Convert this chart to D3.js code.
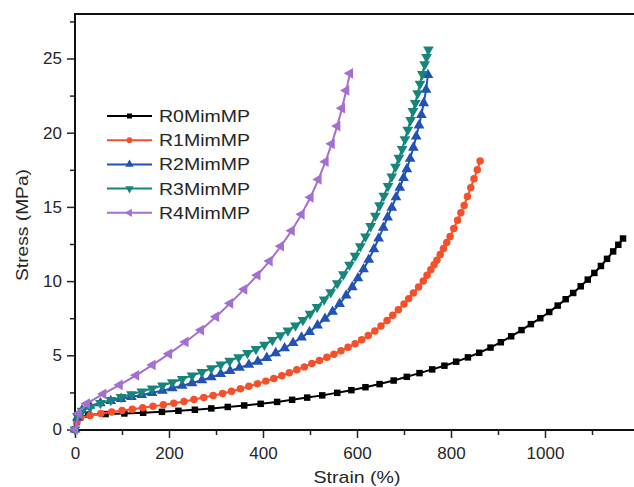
<!DOCTYPE html>
<html><head><meta charset="utf-8">
<script src="https://cdn.jsdelivr.net/npm/d3@7"></script>
<style>body{margin:0;background:#fff;} text{font-family:"Liberation Sans",Arial,sans-serif;}</style>
</head><body><svg id="c" width="634" height="487"></svg>
<script>
// ---- data ----
const seriesNames = ["R0MimMP", "R1MimMP", "R2MimMP", "R3MimMP", "R4MimMP"];

const r0Strain = [0,4,10,28,65,105,145,185,220,255,290,325,360,395,430,462,494,526,558,588,618,648,678,706,733,760,786,811,836,860,884,906,928,950,970,990,1009,1027,1044,1060,1076,1091,1105,1119,1132,1145,1156,1166];
const r0Stress = [0,0.5,0.8,1.0,1.04,1.08,1.13,1.19,1.26,1.33,1.42,1.52,1.62,1.73,1.86,2.0,2.15,2.3,2.47,2.65,2.85,3.06,3.3,3.55,3.8,4.05,4.3,4.57,4.86,5.17,5.52,5.88,6.28,6.7,7.1,7.5,7.92,8.35,8.78,9.2,9.65,10.1,10.55,11.02,11.5,12.0,12.45,12.87];

const r1Strain = [0,4,12,32,55,78,100,122,144,166,188,210,232,253,274,294,314,333,352,370,388,406,423,440,456,472,488,504,520,536,551,566,581,596,610,624,638,651,664,676,688,700,710,720,731,741,749,757,764,770,777,784,791,798,806,814,821,828,835,842,849,856,862];
const r1Stress = [0,0.5,0.8,0.95,1.08,1.18,1.28,1.37,1.46,1.56,1.66,1.77,1.89,2.02,2.15,2.29,2.43,2.58,2.74,2.91,3.08,3.26,3.44,3.63,3.82,4.02,4.22,4.45,4.65,4.87,5.07,5.3,5.54,5.78,6.05,6.33,6.63,6.98,7.35,7.7,8.07,8.45,8.82,9.2,9.6,10.0,10.4,10.77,11.1,11.4,11.8,12.2,12.6,13.0,13.55,14.1,14.6,15.1,15.7,16.3,16.9,17.5,18.1];

const r2Strain = [0,5,15,32,54,76,98,120,142,164,186,207,228,249,270,290,310,330,350,370,389,408,427,446,464,482,499,516,532,548,563,577,590,602,614,625,636,646,656,665,674,683,691,699,706,713,720,726,732,737,742,747,751];
const r2Stress = [0,0.8,1.3,1.6,1.78,1.93,2.07,2.2,2.33,2.47,2.62,2.78,2.95,3.13,3.32,3.52,3.74,3.95,4.16,4.37,4.58,4.83,5.15,5.48,5.83,6.2,6.58,7.02,7.47,7.94,8.47,9.04,9.6,10.2,10.8,11.45,12.15,12.88,13.6,14.3,14.95,15.65,16.3,16.95,17.55,18.25,19.0,19.75,20.5,21.2,22.0,22.9,23.9];

const r3Strain = [0,5,15,32,54,76,98,120,142,164,186,207,228,249,270,290,310,329,348,367,385,403,420,437,453,469,485,500,515,530,544,558,571,584,596,607,618,629,639,648,657,666,674,682,689,696,702,708,714,719,724,729,734,739,744,748,752];
const r3Stress = [0,0.9,1.25,1.5,1.78,1.98,2.18,2.37,2.56,2.76,2.96,3.17,3.4,3.63,3.86,4.12,4.38,4.62,4.87,5.15,5.42,5.71,6.02,6.34,6.66,7.0,7.38,7.8,8.25,8.75,9.25,9.85,10.45,11.1,11.7,12.35,13.0,13.7,14.4,15.1,15.75,16.4,17.05,17.7,18.3,18.9,19.55,20.2,20.85,21.45,22.0,22.65,23.3,23.95,24.6,25.1,25.6];

const r4Strain = [0,8,25,60,95,130,165,200,235,268,300,330,360,388,414,438,461,482,501,518,533,546,558,568,577,585];
const r4Stress = [0,1.1,1.75,2.4,3.0,3.65,4.35,5.1,5.9,6.7,7.6,8.5,9.45,10.4,11.35,12.35,13.4,14.5,15.65,16.85,18.05,19.25,20.45,21.65,22.85,24.0];

const xTickValues = [0, 200, 400, 600, 800, 1000];
const xMinorValues = [100, 300, 500, 700, 900, 1100];
const yTickValues = [0, 5, 10, 15, 20, 25];
const yMinorValues = [2.5, 7.5, 12.5, 17.5, 22.5, 27.5];
const xTitle = "Strain (%)";
const yTitle = "Stress (MPa)";

// ---- chart ----
const colors = ["#000000", "#f5502a", "#2352b5", "#16867a", "#a46fcf"];
const svg = d3.select("#c");
const x = d3.scaleLinear().domain([0, 1200]).range([75, 639]);
const y = d3.scaleLinear().domain([0, 28]).range([429.5, 14]);
const textColor = "#262626";

const series = [
  {name: seriesNames[0], xs: r0Strain, ys: r0Stress, sym: d3.symbolSquare, size: 42, rot: 0},
  {name: seriesNames[1], xs: r1Strain, ys: r1Stress, sym: d3.symbolCircle, size: 44, rot: 0},
  {name: seriesNames[2], xs: r2Strain, ys: r2Stress, sym: d3.symbolTriangle, size: 50, rot: 0},
  {name: seriesNames[3], xs: r3Strain, ys: r3Stress, sym: d3.symbolTriangle, size: 50, rot: 180},
  {name: seriesNames[4], xs: r4Strain, ys: r4Stress, sym: d3.symbolTriangle, size: 50, rot: -90},
];

// axes
const axisStyle = g => {
  g.selectAll(".domain").remove();
  g.selectAll("line").attr("stroke", "#222").attr("stroke-width", 1.5);
  g.selectAll("text").attr("fill", textColor).style("font-size", "17px");
};
svg.append("g").attr("transform", "translate(0,430)")
  .call(d3.axisBottom(x).tickValues(xTickValues).tickSize(8).tickPadding(9).tickFormat(d3.format("d")))
  .call(axisStyle);
svg.append("g").attr("transform", "translate(0,430)")
  .call(d3.axisBottom(x).tickValues(xMinorValues).tickSize(5).tickFormat(""))
  .call(axisStyle);
svg.append("g").attr("transform", "translate(75,0)")
  .call(d3.axisLeft(y).tickValues(yTickValues).tickSize(8).tickPadding(5).tickFormat(d3.format("d")))
  .call(axisStyle);
svg.append("g").attr("transform", "translate(75,0)")
  .call(d3.axisLeft(y).tickValues(yMinorValues).tickSize(5).tickFormat(""))
  .call(axisStyle);

// frame lines
svg.append("line").attr("x1", 75).attr("x2", 634).attr("y1", 430).attr("y2", 430).attr("stroke", "#111").attr("stroke-width", 2);
svg.append("line").attr("x1", 75).attr("x2", 634).attr("y1", 14).attr("y2", 14).attr("stroke", "#111").attr("stroke-width", 2);
svg.append("line").attr("x1", 75).attr("x2", 75).attr("y1", 13).attr("y2", 431).attr("stroke", "#111").attr("stroke-width", 2);

// titles
svg.append("text").attr("x", 357).attr("y", 483).attr("text-anchor", "middle")
  .attr("fill", textColor).style("font-size", "17px")
  .attr("textLength", 87).attr("lengthAdjust", "spacingAndGlyphs").text(xTitle);
svg.append("text").attr("transform", "translate(28,225) rotate(-90)").attr("text-anchor", "middle")
  .attr("fill", textColor).style("font-size", "17px")
  .attr("textLength", 112).attr("lengthAdjust", "spacingAndGlyphs").text(yTitle);

// curves
const line = d3.line().x(d => x(d[0])).y(d => y(d[1]));
series.forEach((s, i) => {
  const pts = s.xs.map((v, k) => [v, s.ys[k]]);
  const g = svg.append("g");
  g.append("path").attr("d", line(pts)).attr("fill", "none").attr("stroke", colors[i]).attr("stroke-width", 2);
  g.selectAll("path.m").data(pts).join("path").attr("class", "m")
    .attr("transform", d => `translate(${x(d[0])},${y(d[1])}) rotate(${s.rot})`)
    .attr("d", d3.symbol().type(s.sym).size(s.size)).attr("fill", colors[i]);
});

// legend
const lg = svg.append("g");
series.forEach((s, i) => {
  const yy = 116 + i * 24.2;
  lg.append("line").attr("x1", 107).attr("x2", 152).attr("y1", yy).attr("y2", yy).attr("stroke", colors[i]).attr("stroke-width", 2);
  lg.append("path").attr("transform", `translate(129.5,${yy}) rotate(${s.rot})`)
    .attr("d", d3.symbol().type(s.sym).size(s.size * 0.6)).attr("fill", colors[i]);
  lg.append("text").attr("x", 159).attr("y", yy + 6).attr("fill", textColor)
    .style("font-size", "17px").attr("textLength", 91).attr("lengthAdjust", "spacingAndGlyphs").text(s.name);
});
</script></body></html>
